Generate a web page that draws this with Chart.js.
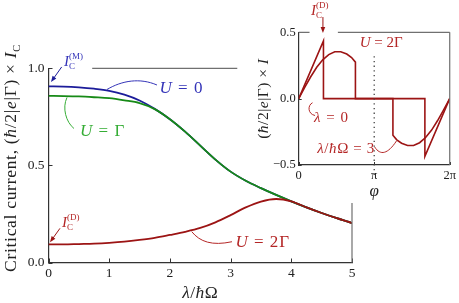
<!DOCTYPE html>
<html>
<head>
<meta charset="utf-8">
<script src="https://cdn.jsdelivr.net/npm/chart.js@4.4.1/dist/chart.umd.min.js"></script>
<style>
  html, body { margin: 0; background: #fff; }
  #wrap { position: relative; width: 459px; height: 303px; }
  canvas { position: absolute; }
</style>
</head>
<body>
<div id="wrap">
  <canvas id="main" width="459" height="303" style="left:0;top:0"></canvas>
  <canvas id="inset" width="204" height="203" style="left:255px;top:0"></canvas>
</div>
<script>
// Main panel: critical current vs lambda / hbar Omega
const lambdaVals = [0, 0.25, 0.5, 0.75, 1.0, 1.25, 1.5, 1.75, 2.0, 2.25, 2.5, 2.75, 3.0, 3.25, 3.5, 3.75, 4.0, 4.25, 4.5, 4.75, 5.0];
const icU0 = [0.907, 0.906, 0.902, 0.895, 0.884, 0.864, 0.834, 0.791, 0.738, 0.674, 0.602, 0.530, 0.468, 0.421, 0.383, 0.348, 0.315, 0.284, 0.255, 0.228, 0.203];
const icU1 = [0.858, 0.857, 0.855, 0.851, 0.846, 0.835, 0.821, 0.790, 0.738, 0.674, 0.602, 0.530, 0.468, 0.421, 0.383, 0.348, 0.315, 0.284, 0.255, 0.228, 0.203];
const icU2 = [0.093, 0.093, 0.095, 0.097, 0.101, 0.107, 0.116, 0.127, 0.142, 0.158, 0.178, 0.207, 0.244, 0.284, 0.314, 0.327, 0.315, 0.284, 0.255, 0.228, 0.203];

// Inset: current-phase relation for U = 2 Gamma
const phiLam0 = [0, 1.03, 1.03, 5.25, 5.25, 6.283];
const curLam0 = [0, 0.435, 0, 0, -0.435, 0];
const phiLam3 = [0, 0.25, 0.5, 0.75, 1.0, 1.25, 1.5, 1.75, 2.0, 2.2, 2.36, 2.36, 3.92, 3.92, 4.08, 4.28, 4.53, 4.78, 5.03, 5.28, 5.53, 5.78, 6.03, 6.283];
const curLam3 = [0, 0.085, 0.165, 0.237, 0.293, 0.332, 0.353, 0.353, 0.336, 0.31, 0.275, 0, 0, -0.275, -0.31, -0.336, -0.353, -0.353, -0.332, -0.293, -0.237, -0.165, -0.085, 0];

const phiTicks = [0, Math.PI, 2 * Math.PI];
const phiTickLabels = ['0', 'π', '2π'];
const curTicks = [-0.5, 0, 0.5];
const curTickLabels = ['−0.5', '0.0', '0.5'];

const FONT = '"Liberation Serif", "DejaVu Serif", serif';
const BLUE = '#1c1c9a', GREEN = '#178a17', RED = '#9c1414';
const BLUE_TXT = '#3434b8', GREEN_TXT = '#35ad35', RED_TXT = '#b42626';

// draw a small math-ish string: parts with italic / sub / sup
function drawMath(ctx, x, y, parts, size, color, align, spacing) {
  const ls = (spacing || 0) + 'px';
  let cur = 0, prevStart = 0;
  const items = [];
  ctx.letterSpacing = ls;
  for (const p of parts) {
    const s = (p.k === 'sub' || p.k === 'sup') ? size * 0.6 : size;
    const font = (p.i ? 'italic ' : '') + s + 'px ' + FONT;
    ctx.font = font;
    const w = ctx.measureText(p.t).width;
    const start = p.over ? prevStart : cur;
    const dy = p.k === 'sub' ? size * 0.22 : p.k === 'sup' ? -size * 0.45 : 0;
    items.push({ t: p.t, font, start, dy });
    prevStart = start;
    cur = Math.max(cur, start + w);
  }
  const off = align === 'center' ? -cur / 2 : align === 'right' ? -cur : 0;
  ctx.fillStyle = color;
  ctx.textBaseline = 'alphabetic';
  ctx.textAlign = 'left';
  items.forEach(it => { ctx.font = it.font; ctx.fillText(it.t, x + off + it.start, y + it.dy); });
  ctx.letterSpacing = '0px';
}

function drawArrow(ctx, x0, y0, x1, y1, color) {
  const a = Math.atan2(y1 - y0, x1 - x0), c = Math.cos(a), s = Math.sin(a);
  ctx.strokeStyle = color; ctx.fillStyle = color; ctx.lineWidth = 1;
  ctx.beginPath(); ctx.moveTo(x0, y0); ctx.lineTo(x1 - 3 * c, y1 - 3 * s); ctx.stroke();
  ctx.beginPath();
  ctx.moveTo(x1, y1);
  ctx.lineTo(x1 - 6 * c - 2.3 * s, y1 - 6 * s + 2.3 * c);
  ctx.lineTo(x1 - 6 * c + 2.3 * s, y1 - 6 * s - 2.3 * c);
  ctx.closePath(); ctx.fill();
}

const IC = tag => [{ t: 'I', i: 1 }, { t: 'C', k: 'sub' }, { t: '(' + tag + ')', k: 'sup', over: 1 }];
const hbarFrac = [{ t: '(' }, { t: 'ħ', i: 1 }, { t: '/2|' }, { t: 'e', i: 1 }, { t: '|Γ) × ' }, { t: 'I', i: 1 }];

// labels / connectors, placed in data units of each panel
const mainLabels = [
  { parts: IC('M'), x: 0.255, y: 1.012, size: 15, sp: 0, color: BLUE_TXT },
  { parts: [{ t: 'U', i: 1 }, { t: ' = 0' }], x: 1.83, y: 0.874, size: 17, sp: 1, color: BLUE_TXT },
  { parts: [{ t: 'U', i: 1 }, { t: ' = Γ' }], x: 0.52, y: 0.649, size: 17, sp: 1, color: GREEN_TXT },
  { parts: IC('D'), x: 0.222, y: 0.184, size: 15, sp: 0, color: RED_TXT },
  { parts: [{ t: 'U', i: 1 }, { t: ' = 2Γ' }], x: 3.08, y: 0.080, size: 17, sp: 1, color: RED_TXT }
];
const mainCurves = [
  { pts: [[0.964, 0.891], [1.211, 0.937], [1.507, 0.952], [1.787, 0.914]], color: BLUE_TXT },
  { pts: [[0.305, 0.850], [0.222, 0.796], [0.288, 0.723], [0.42, 0.690]], color: GREEN_TXT },
  { pts: [[2.359, 0.159], [2.496, 0.106], [2.694, 0.085], [3.023, 0.107]], color: RED_TXT }
];
const mainArrows = [
  { from: [0.217, 1.007], to: [0.041, 0.929], color: BLUE },
  { from: [0.189, 0.176], to: [0.025, 0.104], color: RED }
];

const insetLabels = [
  { parts: [{ t: 'U', i: 1 }, { t: ' = 2Γ' }], x: 2.54, y: 0.389, size: 15, sp: 0, color: RED_TXT },
  { parts: [{ t: 'λ', i: 1 }, { t: ' = 0' }], x: 0.64, y: -0.174, size: 15, sp: 1, color: RED_TXT },
  { parts: [{ t: 'λ', i: 1 }, { t: '/' }, { t: 'ħ', i: 1 }, { t: 'Ω = 3' }], x: 0.77, y: -0.41, size: 15, sp: 0.6, color: RED_TXT },
  { parts: IC('D'), x: 0.51, y: 0.630, size: 15, sp: 0, color: RED_TXT }
];
const insetCurves = [
  { pts: [[0.575, -0.031], [0.366, -0.048], [0.366, -0.116], [0.681, -0.127]], color: RED_TXT },
  { pts: [[3.161, -0.364], [3.397, -0.432], [3.712, -0.417], [4.067, -0.319]], color: RED_TXT }
];
const insetArrows = [
  { from: [1.008, 0.615], to: [1.008, 0.495], color: RED }
];

function drawNotes(ctx, X, Y, labels, curves, arrows) {
  curves.forEach(cv => {
    const p = cv.pts.map(q => [X(q[0]), Y(q[1])]);
    ctx.strokeStyle = cv.color; ctx.lineWidth = 1;
    ctx.beginPath(); ctx.moveTo(p[0][0], p[0][1]);
    ctx.bezierCurveTo(p[1][0], p[1][1], p[2][0], p[2][1], p[3][0], p[3][1]);
    ctx.stroke();
  });
  arrows.forEach(a => drawArrow(ctx, X(a.from[0]), Y(a.from[1]), X(a.to[0]), Y(a.to[1]), a.color));
  labels.forEach(l => drawMath(ctx, X(l.x), Y(l.y), l.parts, l.size, l.color, 'left', l.sp));
}

function inwardTicks(ctx, sx, sy, a, len) {
  ctx.strokeStyle = '#333'; ctx.lineWidth = 1;
  ctx.beginPath();
  sx.ticks.forEach(t => { const px = Math.round(sx.getPixelForValue(t.value)) + 0.5; ctx.moveTo(px, a.bottom); ctx.lineTo(px, a.bottom - len); });
  sy.ticks.forEach(t => { const py = Math.round(sy.getPixelForValue(t.value)) + 0.5; ctx.moveTo(a.left, py); ctx.lineTo(a.left + len, py); });
  ctx.stroke();
}

const mainDecor = {
  id: 'mainDecor',
  afterDraw(chart) {
    const { ctx, chartArea: a } = chart;
    const sx = chart.scales.x, sy = chart.scales.y;
    const X = v => sx.getPixelForValue(v), Y = v => sy.getPixelForValue(v);
    ctx.save();
    inwardTicks(ctx, sx, sy, a, 4);
    // partial top and right frame
    ctx.strokeStyle = '#707070'; ctx.lineWidth = 1.2;
    ctx.beginPath();
    ctx.moveTo(X(0.72), a.top); ctx.lineTo(X(3.11), a.top);
    ctx.moveTo(a.right, Y(0.306)); ctx.lineTo(a.right, a.bottom);
    ctx.stroke();
    drawNotes(ctx, X, Y, mainLabels, mainCurves, mainArrows);
    // axis titles
    drawMath(ctx, (a.left + a.right) / 2, 298, [{ t: 'λ', i: 1 }, { t: '/' }, { t: 'ħ', i: 1 }, { t: 'Ω' }], 17.5, '#222', 'center', 0.5);
    ctx.translate(16, 158);
    ctx.rotate(-Math.PI / 2);
    drawMath(ctx, 0, 0, [{ t: 'Critical current, ' }].concat(hbarFrac, [{ t: 'C', k: 'sub' }]), 17.5, '#222', 'center', 0.7);
    ctx.restore();
  }
};

const insetDecor = {
  id: 'insetDecor',
  afterDraw(chart) {
    const { ctx, chartArea: a } = chart;
    const sx = chart.scales.x, sy = chart.scales.y;
    const X = v => sx.getPixelForValue(v), Y = v => sy.getPixelForValue(v);
    ctx.save();
    inwardTicks(ctx, sx, sy, a, 3);
    ctx.strokeStyle = '#707070'; ctx.lineWidth = 1.2;
    ctx.beginPath();
    ctx.moveTo(a.left, a.top); ctx.lineTo(X(0.45), a.top);
    ctx.moveTo(X(1.63), a.top); ctx.lineTo(a.right, a.top);
    ctx.moveTo(a.right, a.top); ctx.lineTo(a.right, a.bottom);
    ctx.stroke();
    // dotted line at phi = pi
    ctx.strokeStyle = '#444'; ctx.lineWidth = 1.3; ctx.setLineDash([1.3, 3.4]);
    ctx.beginPath(); ctx.moveTo(X(Math.PI), Y(0.32)); ctx.lineTo(X(Math.PI), Y(-0.59)); ctx.stroke();
    ctx.setLineDash([]);
    drawNotes(ctx, X, Y, insetLabels, insetCurves, insetArrows);
    drawMath(ctx, X(Math.PI), 196, [{ t: 'φ', i: 1 }], 17, '#222', 'center');
    ctx.translate(13, (a.top + a.bottom) / 2);
    ctx.rotate(-Math.PI / 2);
    drawMath(ctx, 0, 0, hbarFrac, 15.5, '#222', 'center', 0.5);
    ctx.restore();
  }
};

const toXY = (xs, ys) => xs.map((v, i) => ({ x: v, y: ys[i] }));
const tickFont = size => ({ family: FONT, size });

new Chart(document.getElementById('main'), {
  type: 'line',
  data: {
    datasets: [
      { data: toXY(lambdaVals, icU2), borderColor: RED, borderWidth: 1.8, order: 1 },
      { data: toXY(lambdaVals, icU1), borderColor: GREEN, borderWidth: 1.8, order: 2 },
      { data: toXY(lambdaVals, icU0), borderColor: BLUE, borderWidth: 1.8, order: 3 }
    ]
  },
  options: {
    responsive: false,
    animation: false,
    devicePixelRatio: 1,
    layout: { padding: { left: 0, right: 107, top: 68.3, bottom: 0 } },
    elements: { point: { radius: 0 }, line: { cubicInterpolationMode: 'monotone', fill: false } },
    plugins: { legend: { display: false }, tooltip: { enabled: false } },
    scales: {
      x: {
        type: 'linear', min: 0, max: 5,
        afterFit: s => { s.height = 40.5; },
        ticks: { stepSize: 1, padding: 3, color: '#222', font: tickFont(13.5), maxRotation: 0 },
        grid: { display: false, drawTicks: false },
        border: { display: true, color: '#333', width: 1.2 }
      },
      y: {
        min: 0, max: 1.0,
        afterFit: s => { s.width = 48.5; },
        ticks: { stepSize: 0.5, padding: 4, color: '#222', font: tickFont(13.5), callback: v => v.toFixed(1) },
        grid: { display: false, drawTicks: false },
        border: { display: true, color: '#333', width: 1.2 }
      }
    }
  },
  plugins: [mainDecor]
});

new Chart(document.getElementById('inset'), {
  type: 'line',
  data: {
    datasets: [
      { data: toXY(phiLam0, curLam0), borderColor: RED, borderWidth: 1.6, tension: 0 },
      { data: toXY(phiLam3, curLam3), borderColor: RED, borderWidth: 1.6, tension: 0 }
    ]
  },
  options: {
    responsive: false,
    animation: false,
    devicePixelRatio: 1,
    layout: { padding: { left: 0, right: 0.7, top: 32.3, bottom: 0 } },
    elements: { point: { radius: 0 }, line: { fill: false } },
    plugins: { legend: { display: false }, tooltip: { enabled: false } },
    scales: {
      x: {
        type: 'linear', min: 0, max: 2 * Math.PI,
        afterFit: s => { s.height = 38; },
        afterBuildTicks: s => { s.ticks = phiTicks.map(v => ({ value: v })); },
        ticks: { padding: 3, color: '#222', font: tickFont(12.5), maxRotation: 0, callback: (v, i) => phiTickLabels[i] },
        grid: { display: false, drawTicks: false },
        border: { display: true, color: '#333', width: 1.2 }
      },
      y: {
        min: -0.5, max: 0.5,
        afterFit: s => { s.width = 43.7; },
        afterBuildTicks: s => { s.ticks = curTicks.map(v => ({ value: v })); },
        ticks: { padding: 3, color: '#222', font: tickFont(12.5), callback: (v, i) => curTickLabels[i] },
        grid: { display: false, drawTicks: false },
        border: { display: true, color: '#333', width: 1.2 }
      }
    }
  },
  plugins: [insetDecor]
});
</script>
</body>
</html>
